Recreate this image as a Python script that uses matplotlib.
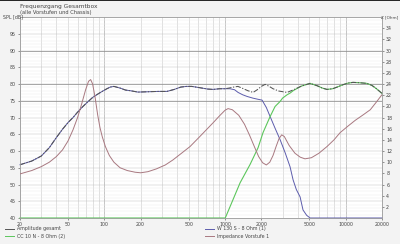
import matplotlib

matplotlib.use("Agg")
import matplotlib.pyplot as plt
from matplotlib.lines import Line2D
from matplotlib.ticker import FixedLocator, NullFormatter

# impedance curve (right axis, Ohm)
imp_f = [20, 25, 30, 35, 40, 45, 50, 55, 60, 65, 70, 74, 77, 80, 84, 88, 92, 96,
         102, 110, 120, 135, 155, 180, 200, 230, 270, 320, 370, 430, 513, 600, 700,
         800, 900, 1000, 1060, 1150, 1300, 1450, 1600, 1750, 1900, 2050, 2200, 2350,
         2500, 2650, 2800, 2950, 3100, 3400, 3800, 4200, 4600, 5200, 6000, 7000,
         8000, 9000, 10500, 12000, 14000, 16000, 18000, 20000]
imp_ohm = [7.9, 8.5, 9.2, 10.0, 11.0, 12.2, 13.8, 15.8, 18.0, 20.5, 23.0, 24.5, 24.8,
           24.0, 21.5, 18.5, 16.2, 14.6, 12.8, 11.2, 10.0, 9.0, 8.5, 8.2, 8.1, 8.3,
           8.8, 9.5, 10.4, 11.5, 12.8, 14.3, 15.8, 17.1, 18.3, 19.3, 19.6, 19.4, 18.4,
           16.8, 14.8, 12.8, 11.0, 9.9, 9.5, 10.0, 11.2, 12.8, 14.2, 14.9, 14.6, 13.0,
           11.6, 10.9, 10.6, 10.8, 11.6, 12.8, 14.0, 15.3, 16.5, 17.5, 18.5, 19.4,
           20.8, 22.1]

# total SPL (dB)
tot_f = [20, 25, 30, 35, 40, 45, 50, 55, 60, 66, 72, 80, 90, 96, 105, 112, 120, 135,
         150, 165, 190, 230, 280, 330, 380, 430, 480, 530, 620, 720, 800, 900, 1000,
         1080, 1180, 1280, 1400, 1550, 1710, 1850, 2000, 2150, 2300, 2500, 2800,
         3270, 3700, 4300, 5070, 5800, 6400, 7000, 7800, 8500, 9500, 10500, 11500,
         13000, 15000, 16500, 18000, 20000]
tot_db = [55.9, 57.0, 58.5, 61.0, 64.0, 66.5, 68.5, 70.0, 71.6, 73.2, 74.5, 76.0,
          77.2, 77.8, 78.6, 79.1, 79.3, 78.8, 78.2, 78.0, 77.6, 77.7, 77.8, 77.8,
          78.4, 79.1, 79.3, 79.3, 78.9, 78.5, 78.4, 78.6, 78.6, 78.8, 79.1, 79.3,
          78.7, 78.0, 77.5, 78.3, 79.3, 79.9, 79.4, 78.6, 77.9, 77.5, 78.3, 79.4,
          80.2, 79.5, 78.8, 78.4, 78.6, 79.1, 79.8, 80.3, 80.5, 80.4, 80.2, 79.6,
          78.6, 77.2]

# woofer W 130 S: follows the total up to 1 kHz, then rolls off
woof_hi_f = [1100, 1200, 1283, 1400, 1524, 1700, 1850, 2028, 2200, 2365, 2600, 2860,
             3150, 3460, 3665, 3900, 4190, 4430, 4750, 5070, 10000, 20000]
woof_hi_db = [78.6, 78.3, 77.5, 76.8, 76.3, 75.8, 75.5, 75.2, 73.0, 70.3, 66.8, 63.4,
              59.5, 55.3, 51.4, 48.5, 46.3, 42.4, 40.8, 40.0, 40.0, 40.0]

# tweeter CC 10 N: silent below 1 kHz, follows the total above ~4 kHz
tw_lo_f = [20, 1005, 1150, 1333, 1614, 1880, 2066, 2365, 2600, 2860, 3000, 3270,
           3460, 3700]
tw_lo_db = [40.0, 40.0, 45.0, 50.5, 56.0, 61.0, 65.5, 70.3, 73.3, 74.8, 75.8, 76.8,
            77.3, 78.1]

x_ticks = [20, 50, 100, 200, 500, 1000, 2000, 5000, 10000, 20000]
spl_ticks = [40, 45, 50, 55, 60, 65, 70, 75, 80, 85, 90, 95]
z_ticks = [2, 4, 6, 8, 10, 12, 14, 16, 18, 20, 22, 24, 26, 28, 30, 32, 34]

C_TOT = "#555555"
C_WOOF = "#5c5cac"
C_TW = "#5cc65c"
C_IMP = "#a87880"
C_TXT = "#444444"
FS = 3.4

woof_f = [f for f in tot_f if f <= 1000] + woof_hi_f
woof_db = [d for f, d in zip(tot_f, tot_db) if f <= 1000] + woof_hi_db
tw_f = tw_lo_f + [f for f in tot_f if f >= 4300]
tw_db = tw_lo_db + [d for f, d in zip(tot_f, tot_db) if f >= 4300]

fig = plt.figure(figsize=(4.0, 2.44), dpi=100, facecolor="#f3f3f3")
ax = fig.add_axes([0.05, 0.1066, 0.905, 0.8234])
ax.set_facecolor("white")
ax.set_xscale("log")
ax.set_xlim(20, 20000)
ax.set_ylim(40, 100)

# grid: 1 dB minor, 5 dB major, log-decade verticals
minor_x = [m * 10 ** e for e in range(1, 5) for m in range(1, 10)]
minor_x = [v for v in minor_x if 20 <= v <= 20000]
for v in minor_x:
    ax.axvline(v, color="#cfcfcf" if v not in (100, 1000, 10000) else "#a5a5a5",
               lw=0.45, zorder=0)
for v in range(41, 100):
    ax.axhline(v, color="#ececec" if v % 5 else "#c4c4c4", lw=0.35, zorder=0)
for v in (75, 80, 90):
    ax.axhline(v, color="#8a8a8a", lw=0.5, zorder=0)

ax.plot(woof_f, woof_db, color=C_WOOF, lw=0.7, zorder=3, clip_on=False)
ax.plot(tw_f, tw_db, color=C_TW, lw=0.8, zorder=3, clip_on=False)
ax.plot(tot_f, tot_db, color=C_TOT, lw=0.75, ls=(0, (5, 1.5, 1.2, 1.5)), zorder=4)

axz = ax.twinx()
axz.set_ylim(0, 36)
axz.plot(imp_f, imp_ohm, color=C_IMP, lw=0.7, zorder=3)

ax.xaxis.set_major_locator(FixedLocator(x_ticks))
ax.xaxis.set_minor_formatter(NullFormatter())
ax.set_xticklabels([str(v) for v in x_ticks])
ax.set_yticks(spl_ticks)
axz.set_yticks(z_ticks)
ax.tick_params(axis="both", which="both", labelsize=FS, length=1.5, width=0.4,
               pad=1.5, colors=C_TXT)
ax.tick_params(axis="x", which="minor", length=0)
axz.tick_params(axis="y", labelsize=FS, length=1.5, width=0.4, pad=1.5,
                colors=C_TXT)
for a in (ax, axz):
    for s in a.spines.values():
        s.set_color("#a0a0a0")
        s.set_linewidth(0.5)

fig.text(0.008, 0.93, "SPL [dB]", fontsize=FS, va="center", color=C_TXT)
fig.text(0.996, 0.93, "Z [Ohm]", fontsize=3.0, ha="right", va="center",
         color=C_TXT)
fig.text(0.05, 0.975, "Frequenzgang Gesamtbox", fontsize=4.2, va="center",
         color=C_TXT)
fig.text(0.05, 0.948, "(alle Vorstufen und Chassis)", fontsize=3.7, va="center",
         color=C_TXT)

# legend rows drawn by hand, two columns under the plot
legend = [("Amplitude gesamt", C_TOT, 0.012, 0.062),
          ("CC 10 N - 8 Ohm (2)", C_TW, 0.012, 0.032),
          ("W 130 S - 8 Ohm (1)", C_WOOF, 0.512, 0.062),
          ("Impedance Vorstufe 1", C_IMP, 0.512, 0.032)]
for label, col, lx, ly in legend:
    fig.add_artist(Line2D([lx, lx + 0.022], [ly, ly], color=col, lw=0.7))
    fig.text(lx + 0.03, ly, label, fontsize=FS, va="center", color=C_TXT)

fig.add_artist(Line2D([0, 1], [0.998, 0.998], color="black", lw=1.2))

fig.savefig("out.png", dpi=100, facecolor=fig.get_facecolor())
